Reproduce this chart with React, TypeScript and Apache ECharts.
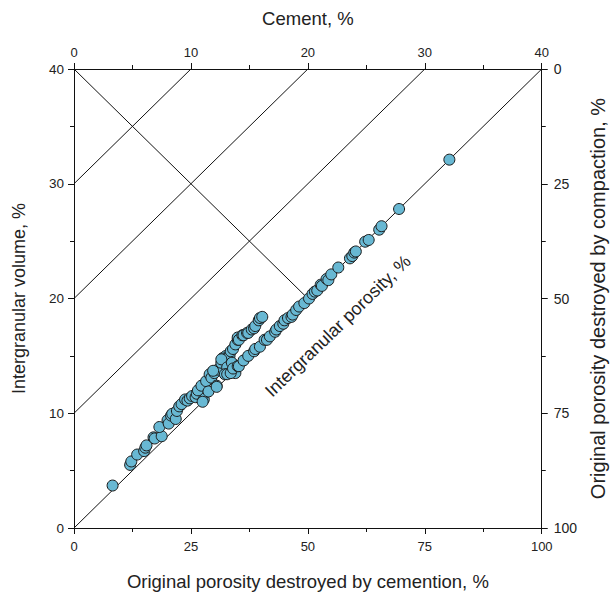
import React, { useEffect, useRef } from "react";
import * as echarts from "echarts";

// Sample points: [cement %, intergranular volume %]
const samples: [number, number][] = [
  [3.3, 3.7],
  [4.8, 5.5], [4.9, 5.8],
  [5.4, 6.4],
  [6.0, 6.7], [6.1, 7.0], [6.2, 7.2],
  [6.8, 7.9], [6.9, 7.8], [7.5, 8.0],
  [7.3, 8.8],
  [8.0, 9.4], [8.1, 9.1], [8.3, 9.8], [8.4, 9.95], [8.7, 9.5],
  [8.8, 10.2], [9.0, 10.6], [9.2, 10.8],
  [9.5, 11.2], [9.7, 11.1], [9.9, 11.3], [10.1, 11.5], [10.4, 11.4], [10.5, 11.7],
  [11.1, 11.2], [11.2, 11.8], [10.6, 12.0], [10.9, 12.4], [11.3, 12.8], [11.6, 13.4], [11.75, 13.1],
  [12.0, 13.5], [12.3, 13.8], [11.9, 13.7],
  [12.6, 14.4], [12.7, 14.8], [13.0, 15.0], [13.1, 14.9], [13.3, 15.0], [13.4, 15.4], [12.6, 14.7],
  [13.1, 14.0], [13.5, 14.4], [13.8, 13.5], [12.2, 12.4], [12.9, 13.4], [11.5, 11.9], [11.0, 11.0], [12.2, 12.3], [13.1, 13.4],
  [13.6, 15.6], [13.8, 16.0], [14.0, 16.4], [14.0, 16.6], [14.1, 16.4], [14.4, 16.8], [14.5, 16.8],
  [14.8, 17.0], [14.9, 17.0], [15.2, 17.3], [15.4, 17.4], [15.5, 17.6], [15.8, 18.1], [15.9, 18.3], [16.1, 18.4],
  [13.4, 13.5], [13.6, 13.9], [14.0, 14.1], [14.1, 14.1], [14.5, 14.6], [14.9, 15.0], [15.4, 15.4], [15.5, 15.6],
  [15.9, 15.8], [16.3, 16.4], [16.5, 16.4], [16.75, 16.7], [17.2, 17.1], [17.3, 17.3], [17.6, 17.6], [17.9, 17.8],
  [18.0, 18.1], [18.3, 18.3], [18.6, 18.4], [18.7, 18.6], [19.0, 19.0], [19.25, 19.3], [19.7, 19.6], [20.1, 20.0],
  [20.4, 20.4], [20.6, 20.6], [20.8, 20.7], [21.1, 21.2], [21.2, 21.1], [21.6, 21.7], [21.75, 21.6], [22.0, 22.1],
  [22.6, 22.7], [23.6, 23.5], [23.8, 23.7], [23.97, 24.0], [24.1, 24.1], [24.9, 24.95], [25.2, 25.1],
  [26.1, 26.0], [26.3, 26.3], [27.8, 27.8], [32.1, 32.1],
];

// Lines of constant intergranular porosity (IGV - cement), in %
const porosityLevels = [0, 10, 20, 30];
// Line where compaction equals cementation: [cement, IGV] end points
const equalLossLine: [number, number][] = [[0, 40], [20, 20]];

const cementRange = [0, 40];
const igvRange = [0, 40];
const percentRange = [0, 100];

const FONT = "'Liberation Sans', Arial, sans-serif";
const TXT = "#222";

export default function App() {
  const ref = useRef<HTMLDivElement>(null);
  useEffect(() => {
    if (!ref.current) return;
    const chart = echarts.init(ref.current, undefined, { renderer: "svg" });
    const axisCommon = {
      axisLine: { show: true, onZero: false, lineStyle: { color: "#111", width: 1 } },
      axisTick: { show: true, inside: false, length: 6, lineStyle: { color: "#111" } },
      minorTick: { show: true, splitNumber: 2, length: 4, lineStyle: { color: "#111" } },
      splitLine: { show: false },
      axisLabel: { color: TXT, fontSize: 13, fontFamily: FONT, margin: 10 },
      nameTextStyle: { color: TXT, fontSize: 18.5, fontFamily: FONT },
      nameLocation: "middle" as const,
    };
    const lineSeries = porosityLevels.map((p) => ({
      type: "line",
      xAxisIndex: 1,
      yAxisIndex: 0,
      data: [[cementRange[0], igvRange[0] + p], [cementRange[1] - p, igvRange[1]]],
      symbol: "none",
      lineStyle: { color: "#111", width: 1 },
      silent: true,
      z: 1,
    }));
    chart.setOption({
      animation: false,
      grid: { left: 74, right: 62, top: 69, bottom: 62 },
      xAxis: [
        {
          ...axisCommon,
          type: "value",
          position: "bottom",
          min: percentRange[0],
          max: percentRange[1],
          interval: 25,
          name: "Original porosity destroyed by cemention, %",
          nameGap: 44,
          axisLabel: { ...axisCommon.axisLabel, margin: 12 },
        },
        {
          ...axisCommon,
          type: "value",
          position: "top",
          min: cementRange[0],
          max: cementRange[1],
          interval: 10,
          name: "Cement, %",
          nameGap: 41,
        },
      ],
      yAxis: [
        {
          ...axisCommon,
          type: "value",
          position: "left",
          min: igvRange[0],
          max: igvRange[1],
          interval: 10,
          name: "Intergranular volume, %",
          nameGap: 46,
          nameTextStyle: { ...axisCommon.nameTextStyle, fontSize: 18 },
          axisLabel: { ...axisCommon.axisLabel, fontSize: 13.5 },
        },
        {
          ...axisCommon,
          type: "value",
          position: "right",
          inverse: true,
          min: percentRange[0],
          max: percentRange[1],
          interval: 25,
          name: "Original porosity destroyed by compaction, %",
          nameGap: 40,
          nameRotate: 90,
          nameTextStyle: { ...axisCommon.nameTextStyle, fontSize: 20 },
          axisLabel: { ...axisCommon.axisLabel, fontSize: 14, margin: 12 },
        },
      ],
      series: [
        ...lineSeries,
        {
          type: "line",
          xAxisIndex: 1,
          yAxisIndex: 0,
          data: equalLossLine,
          symbol: "none",
          lineStyle: { color: "#111", width: 1 },
          silent: true,
          z: 1,
        },
        {
          type: "scatter",
          xAxisIndex: 1,
          yAxisIndex: 0,
          data: samples,
          symbol: "circle",
          symbolSize: 11,
          itemStyle: { color: "#68b8d3", borderColor: "#1a1a1a", borderWidth: 1, opacity: 1 },
          z: 3,
        },
      ],
      graphic: [
        {
          type: "text",
          x: 338,
          y: 326,
          rotation: (44 * Math.PI) / 180,
          style: {
            text: "Intergranular porosity, %",
            fill: TXT,
            fontSize: 18,
            fontFamily: FONT,
            align: "center",
            verticalAlign: "middle",
          },
          z: 10,
        },
      ],
    });
    return () => chart.dispose();
  }, []);
  return (
    <div
      ref={ref}
      style={{ position: "fixed", left: 0, top: 0, width: 616, height: 596, background: "#fff" }}
    />
  );
}
